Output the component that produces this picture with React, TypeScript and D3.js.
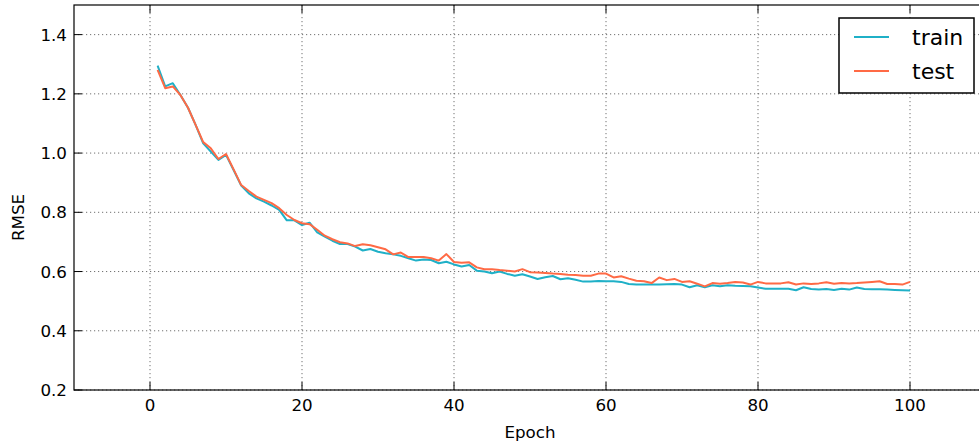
import React from "react";
import * as d3 from "d3";

const epochs: number[] = Array.from({ length: 100 }, (_, i) => i + 1);

const trainRmse: number[] = [
  1.295, 1.225, 1.236, 1.196, 1.153, 1.095, 1.033, 1.005, 0.977, 0.994,
  0.943, 0.890, 0.864, 0.847, 0.836, 0.823, 0.808, 0.773, 0.773, 0.757,
  0.765, 0.732, 0.718, 0.704, 0.693, 0.693, 0.684, 0.671, 0.676, 0.667,
  0.662, 0.658, 0.653, 0.645, 0.637, 0.641, 0.639, 0.628, 0.633, 0.624,
  0.617, 0.622, 0.603, 0.600, 0.594, 0.600, 0.592, 0.586, 0.591, 0.583,
  0.575, 0.581, 0.585, 0.574, 0.577, 0.572, 0.566, 0.566, 0.568, 0.567,
  0.567, 0.565, 0.558, 0.556, 0.556, 0.556, 0.556, 0.557, 0.558, 0.556,
  0.547, 0.554, 0.547, 0.554, 0.550, 0.554, 0.552, 0.551, 0.550, 0.546,
  0.542, 0.542, 0.542, 0.542, 0.537, 0.547, 0.541, 0.539, 0.541, 0.538,
  0.542, 0.539, 0.546, 0.541, 0.540, 0.540, 0.539, 0.538, 0.537, 0.536,
];

const testRmse: number[] = [
  1.281, 1.219, 1.225, 1.196, 1.153, 1.095, 1.037, 1.016, 0.980, 0.997,
  0.945, 0.892, 0.872, 0.853, 0.842, 0.831, 0.814, 0.791, 0.774, 0.763,
  0.760, 0.741, 0.721, 0.709, 0.699, 0.695, 0.686, 0.692, 0.689, 0.682,
  0.675, 0.658, 0.664, 0.649, 0.649, 0.649, 0.645, 0.637, 0.659, 0.632,
  0.630, 0.631, 0.614, 0.608, 0.608, 0.605, 0.603, 0.600, 0.608, 0.598,
  0.597, 0.595, 0.593, 0.592, 0.589, 0.588, 0.586, 0.586, 0.593, 0.593,
  0.580, 0.584, 0.576, 0.569, 0.567, 0.561, 0.580, 0.571, 0.575, 0.565,
  0.567, 0.559, 0.550, 0.561, 0.559, 0.561, 0.565, 0.563, 0.556, 0.565,
  0.560, 0.560, 0.560, 0.564, 0.556, 0.560, 0.558, 0.560, 0.564, 0.559,
  0.561, 0.560, 0.561, 0.563, 0.565, 0.567, 0.558, 0.558, 0.556, 0.565,
];

const xTicks: number[] = [0, 20, 40, 60, 80, 100];
const yTicks: number[] = [0.2, 0.4, 0.6, 0.8, 1.0, 1.2, 1.4];

const seriesNames: string[] = ["train", "test"];
const seriesColors: string[] = ["#1fb0c7", "#ff6a45"];

const W = 979;
const H = 442;
const plotLeft = 74;
const plotRight = 986;
const plotTop = 5;
const plotBottom = 390;

export default function App() {
  const x = d3.scaleLinear().domain([-10, 110]).range([plotLeft, plotRight]);
  const y = d3.scaleLinear().domain([0.2, 1.5]).range([plotBottom, plotTop]);

  const line = d3
    .line<number>()
    .x((_, i) => x(epochs[i]))
    .y((d) => y(d));

  const series = [trainRmse, testRmse];
  const font = "'DejaVu Sans', sans-serif";

  return (
    <svg
      width={W}
      height={H}
      style={{ position: "absolute", left: 0, top: 0, background: "#fff" }}
      fontFamily={font}
    >
      <rect x={0} y={0} width={W} height={H} fill="#fff" />
      {/* grid */}
      {xTicks.map((t) => (
        <line
          key={"gx" + t}
          x1={x(t)}
          x2={x(t)}
          y1={plotTop}
          y2={plotBottom}
          stroke="#333"
          strokeWidth={0.7}
          strokeDasharray="1.2,2.8"
        />
      ))}
      {yTicks.map((t) => (
        <line
          key={"gy" + t}
          x1={plotLeft}
          x2={plotRight}
          y1={y(t)}
          y2={y(t)}
          stroke="#333"
          strokeWidth={0.7}
          strokeDasharray="1.2,2.8"
        />
      ))}
      {/* lines */}
      {series.map((s, i) => (
        <path
          key={"s" + i}
          d={line(s) || ""}
          fill="none"
          stroke={seriesColors[i]}
          strokeWidth={2}
          strokeLinejoin="round"
        />
      ))}
      {/* frame */}
      <rect
        x={plotLeft}
        y={plotTop}
        width={plotRight - plotLeft}
        height={plotBottom - plotTop}
        fill="none"
        stroke="#000"
        strokeWidth={1.2}
      />
      {/* ticks */}
      {xTicks.map((t) => (
        <g key={"tx" + t}>
          <line x1={x(t)} x2={x(t)} y1={plotBottom} y2={plotBottom - 8} stroke="#000" strokeWidth={1} />
          <line x1={x(t)} x2={x(t)} y1={plotTop} y2={plotTop + 8} stroke="#000" strokeWidth={1} />
          <text x={x(t)} y={plotBottom + 21} fontSize={16.7} textAnchor="middle" fill="#000">
            {d3.format("d")(t)}
          </text>
        </g>
      ))}
      {yTicks.map((t) => (
        <g key={"ty" + t}>
          <line x1={plotLeft} x2={plotLeft + 8} y1={y(t)} y2={y(t)} stroke="#000" strokeWidth={1} />
          <text x={plotLeft - 7} y={y(t)} dy="0.36em" fontSize={16.7} textAnchor="end" fill="#000">
            {d3.format(".1f")(t)}
          </text>
        </g>
      ))}
      {/* axis labels */}
      <text x={x(50)} y={438} fontSize={16.7} textAnchor="middle" fill="#000">
        Epoch
      </text>
      <text
        transform={`translate(24,${(plotTop + plotBottom) / 2 + 20}) rotate(-90)`}
        fontSize={16.7}
        textAnchor="middle"
        fill="#000"
      >
        RMSE
      </text>
      {/* legend */}
      <rect x={839} y={18} width={135} height={75} fill="#fff" stroke="#000" strokeWidth={1.5} />
      {seriesNames.map((n, i) => (
        <g key={"lg" + n}>
          <line
            x1={854}
            x2={889}
            y1={37 + i * 34}
            y2={37 + i * 34}
            stroke={seriesColors[i]}
            strokeWidth={2}
          />
          <text x={912} y={37 + i * 34} dy="0.35em" fontSize={22} fill="#000">
            {n}
          </text>
        </g>
      ))}
    </svg>
  );
}
